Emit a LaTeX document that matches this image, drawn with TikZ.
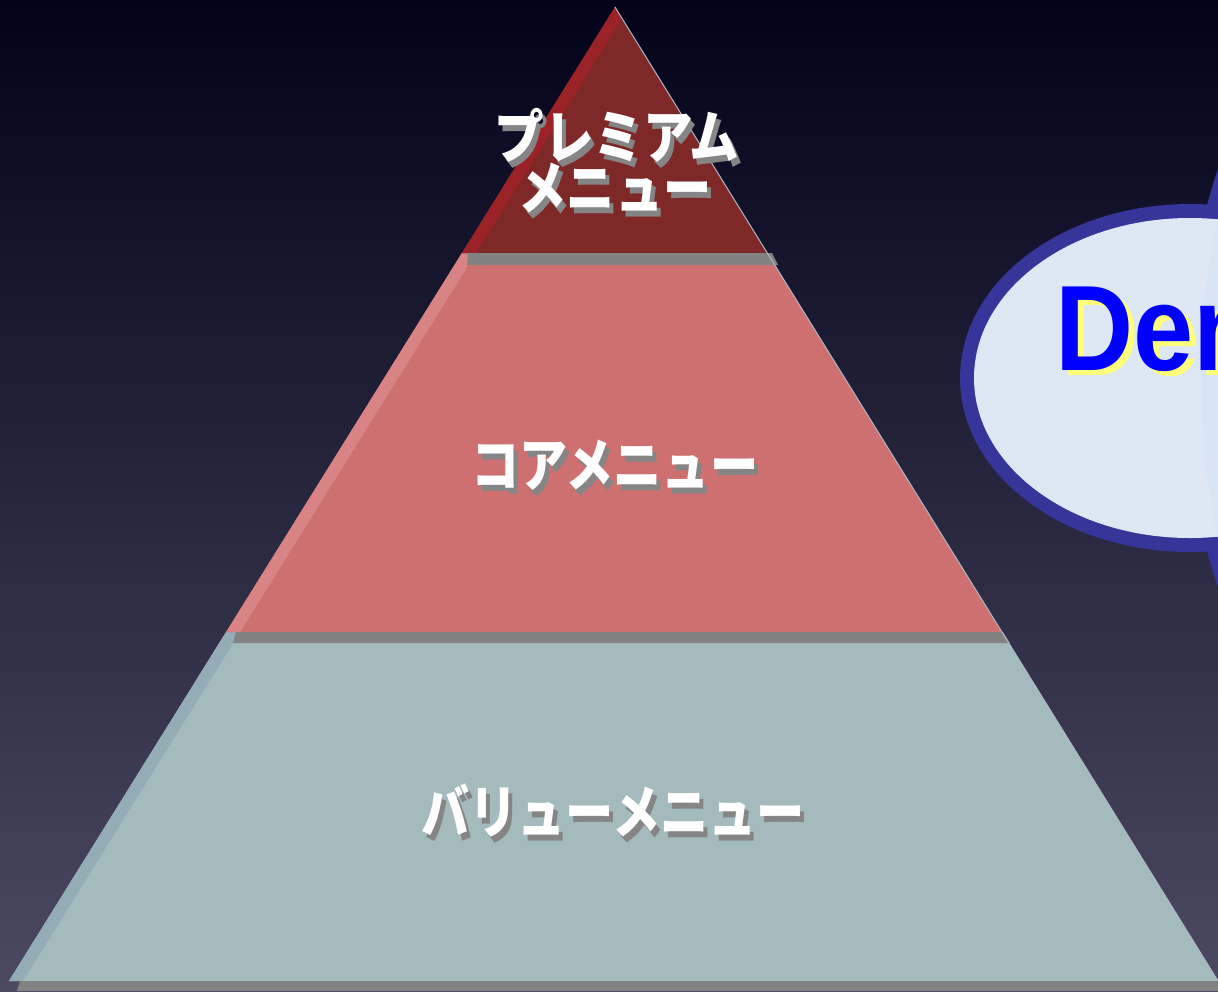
\documentclass[tikz,border=0pt]{standalone}
\usepackage{fontspec}
\setmainfont{Liberation Sans}
\newfontfamily\jp{Noto Sans CJK JP}
\usetikzlibrary{calc}
\definecolor{bgtop}{HTML}{02021A}
\definecolor{bgmid}{HTML}{24243B}
\definecolor{bgbot}{HTML}{4B4A62}
\definecolor{topband}{HTML}{7F2828}
\definecolor{topstripe}{HTML}{9B2226}
\definecolor{midband}{HTML}{CF7070}
\definecolor{midstripe}{HTML}{D88384}
\definecolor{botband}{HTML}{A4BBBD}
\definecolor{botstripe}{HTML}{93ACB6}
\definecolor{strip}{HTML}{828282}
\definecolor{shadowgray}{HTML}{858585}
\definecolor{edgeline}{HTML}{AEB8C6}
\definecolor{cloudborder}{HTML}{35359A}
\definecolor{cloudfill}{HTML}{DEE8F4}
\definecolor{cloudfilltwo}{HTML}{D8E5F4}
\definecolor{denblue}{HTML}{0000FF}
\definecolor{denyellow}{HTML}{FFFF7A}
\tikzset{
  jtxt/.style={font=\jp\bfseries\fontsize{29}{32}\selectfont, text=white, inner sep=0pt, xscale=0.83},
  jshadow/.style={jtxt, text=shadowgray},
  dentxt/.style={anchor=base west, inner sep=0pt, font=\bfseries\fontsize{60.75}{70}\selectfont, xscale=0.89},
  cloudedge/.style={draw=cloudborder, line width=14pt},
  stripbox/.style={fill=strip},
}
\begin{document}
\begin{tikzpicture}[x=0.5pt,y=-0.5pt]
\useasboundingbox (0,0) rectangle (1218,991);
\clip (0,0) rectangle (1218,991);
\shade[top color=bgtop, middle color=bgmid, bottom color=bgbot] (0,0) rectangle (1218,991);

% bottom band
\fill[botband] (226.1,632) -- (1001.9,632) -- (1218,981) -- (9,981) -- cycle;
\begin{scope}
\clip (226.1,632) -- (1001.9,632) -- (1218,981) -- (9,981) -- cycle;
\fill[botstripe] (615,7) -- (9,981) -- (23,981) -- (629,7) -- cycle;
\end{scope}
\fill[stripbox] (20,981) -- (1218,981) -- (1218,991) -- (17,991) -- cycle;

% middle band
\fill[midband] (461.9,253) -- (767.3,253) -- (1001.9,632) -- (226.1,632) -- cycle;
\begin{scope}
\clip (461.9,253) -- (767.3,253) -- (1001.9,632) -- (226.1,632) -- cycle;
\fill[midstripe] (615,7) -- (9,981) -- (23,981) -- (629,7) -- cycle;
\end{scope}
\fill[stripbox] (236,632) -- (1003,632) -- (1010,643) -- (233,643) -- cycle;

% top band
\fill[topband] (615,7) -- (767.3,253) -- (461.9,253) -- cycle;
\begin{scope}
\clip (615,7) -- (767.3,253) -- (461.9,253) -- cycle;
\fill[topstripe] (615,7) -- (9,981) -- (23,981) -- (629,7) -- cycle;
\end{scope}
\fill[stripbox] (468,253) -- (772,253) -- (778,265) -- (467,265) -- cycle;

% right edge highlight
\coordinate (apex) at (615,7);
\coordinate (baseR) at (1218,981);
\draw[edgeline, line width=0.5pt] (apex) -- (baseR);

% texts
\node[jshadow, xscale=1.03] (premAs) at (621,141) {プレミアム};
\node[jtxt, xscale=1.03] (premA) at (617,135) {プレミアム};
\node[jshadow] (premBs) at (619,194) {メニュー};
\node[jtxt] (premB) at (615,188) {メニュー};
\node[jshadow] (coreS) at (619,471) {コアメニュー};
\node[jtxt] (core) at (615,465) {コアメニュー};
\node[jshadow] (valueS) at (617,817) {バリューメニュー};
\node[jtxt] (value) at (613,811) {バリューメニュー};

% cloud
\draw[cloudedge] (1190,378) ellipse [x radius=216, y radius=160];
\draw[cloudedge] (1305,378) ellipse [x radius=104, y radius=290];
\fill[cloudfill] (1190,378) ellipse [x radius=216, y radius=160];
\fill[cloudfilltwo] (1305,378) ellipse [x radius=104, y radius=290];

\node[dentxt, text=denyellow] (denS) at (1061,375) {Den};
\node[dentxt, text=denblue] (den) at (1055,370) {Den};
\end{tikzpicture}
\end{document}
